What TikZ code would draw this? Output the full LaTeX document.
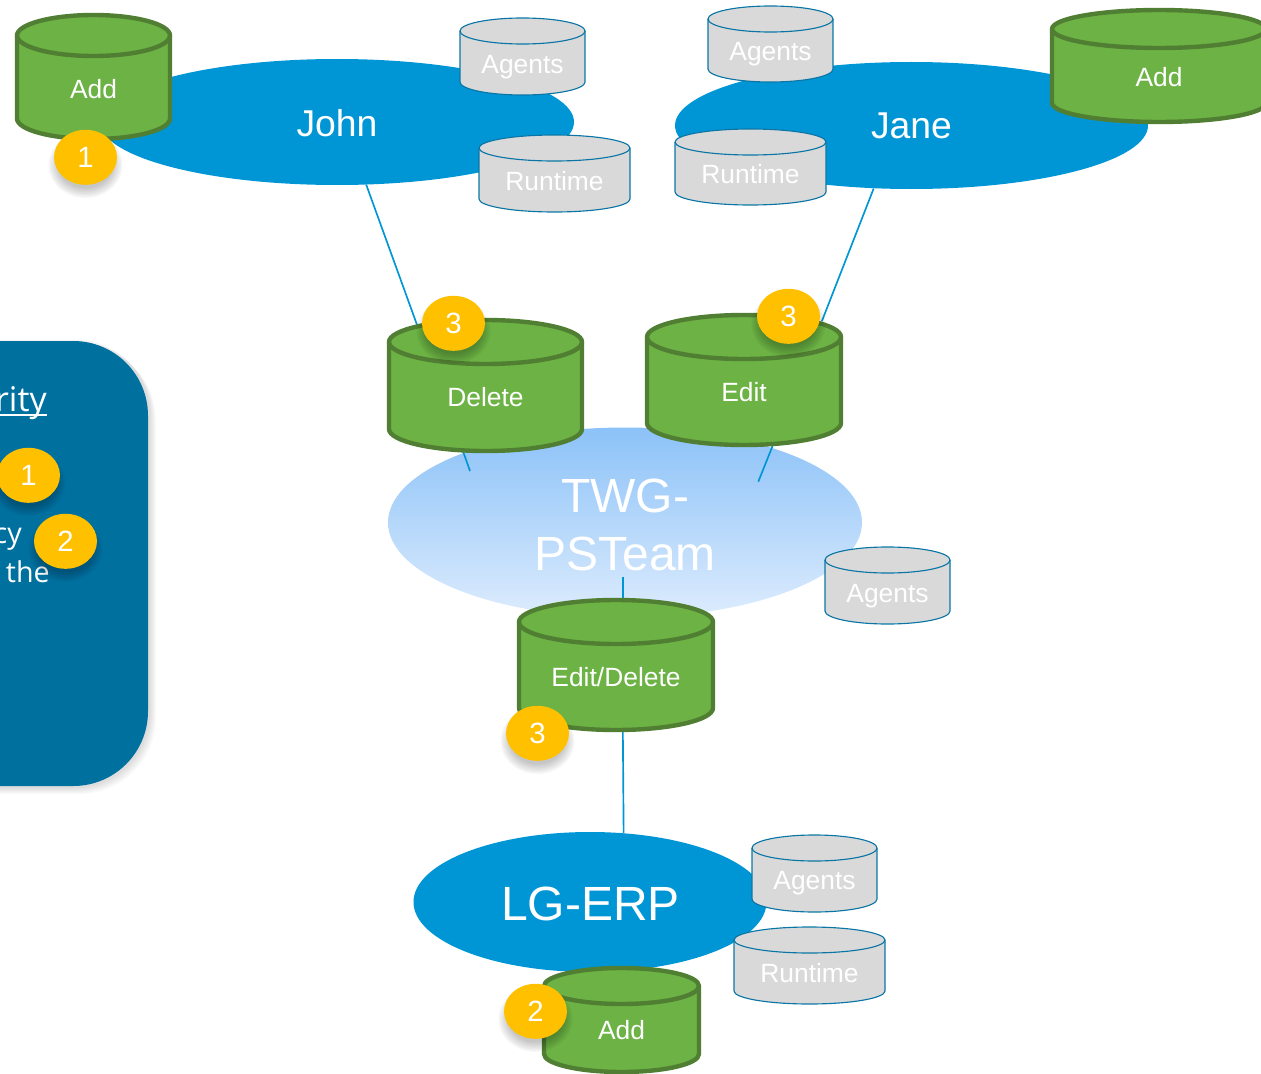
\documentclass[tikz,border=0pt]{standalone}
\usepackage{fontspec}
\setmainfont{Liberation Sans}
\newfontfamily\panelfont{Open Sans}
\usetikzlibrary{shapes.geometric}
\definecolor{lineblue}{HTML}{0096D6}
\definecolor{panelblue}{HTML}{00709F}
\definecolor{grnfill}{HTML}{6CB244}
\definecolor{grnline}{HTML}{507E32}
\definecolor{grayfill}{HTML}{D9D9D9}
\definecolor{graylne}{HTML}{0B76A6}
\definecolor{badgefill}{HTML}{FFC000}
\definecolor{twgtop}{HTML}{8CC2F8}
\definecolor{twgbot}{HTML}{DDECFD}
\pgfdeclarelayer{back}
\pgfdeclarelayer{lines}
\pgfsetlayers{back,lines,main}
\tikzset{
  x=0.75pt,y=-0.75pt,
  person/.style={ellipse,fill=lineblue,text=white,inner sep=0pt},
  wire/.style={draw=lineblue,line width=1.25pt},
  greencyl/.style={fill=grnfill,draw=grnline,line width=3.3pt,line join=round},
  graycyl/.style={fill=grayfill,draw=graylne,line width=0.85pt,line join=round},
  anchorbox/.style={rectangle,inner sep=0pt,outer sep=0pt},
  cyltext/.style={text=white,font=\fontsize{19.8}{23}\selectfont},
  badgenode/.style={ellipse,fill=badgefill,text=white,inner sep=0pt,minimum width=47.25pt,minimum height=41.25pt,font=\fontsize{22}{26}\selectfont},
  paneltext/.style={text=white,anchor=base east,inner sep=0pt,font=\panelfont\fontsize{21.5}{25}\selectfont},
}
% name, style, x1, x2, top, ry, bottom, text, text y
\newcommand{\mycyl}[9]{%
  \pgfmathsetmacro{\cx}{(#3+#4)/2}%
  \pgfmathsetmacro{\rx}{(#4-#3)/2}%
  \pgfmathsetmacro{\cy}{#5+#6}%
  \pgfmathsetmacro{\by}{#7-#6}%
  \pgfmathsetmacro{\kx}{0.5523*\rx}%
  \pgfmathsetmacro{\ky}{0.5523*#6}%
  \pgfmathsetmacro{\ly}{(#5+#7)/2}%
  \pgfmathsetmacro{\wpt}{(#4-#3)*0.75}%
  \pgfmathsetmacro{\hpt}{(#7-#5)*0.75}%
  \node[anchorbox,minimum width=\wpt pt,minimum height=\hpt pt] (#1) at (\cx,\ly) {};
  \path[#2] (#3,\cy) -- (#3,\by)
    .. controls (#3,\by+\ky) and (\cx-\kx,#7) .. (\cx,#7)
    .. controls (\cx+\kx,#7) and (#4,\by+\ky) .. (#4,\by)
    -- (#4,\cy)
    .. controls (#4,\cy-\ky) and (\cx+\kx,#5) .. (\cx,#5)
    .. controls (\cx-\kx,#5) and (#3,\cy-\ky) .. (#3,\cy) -- cycle;
  \path[#2,fill=none] (#3,\cy)
    .. controls (#3,\cy+\ky) and (\cx-\kx,\cy+#6) .. (\cx,\cy+#6)
    .. controls (\cx+\kx,\cy+#6) and (#4,\cy+\ky) .. (#4,\cy);
  \node[cyltext] (#1t) at (\cx,#9) {#8};
}
% name, x, y, digit
\newcommand{\mybadge}[4]{%
  \foreach \i in {0,...,7}{%
    \fill[black,opacity=0.03] (#2+0.5,#3+8) ellipse [x radius=37-\i*1.4, y radius=33-\i*1.4];
  }
  \node[badgenode] (#1) at (#2+0.5,#3+0.3) {#4};
}
\begin{document}
\begin{tikzpicture}
\useasboundingbox (0,0) rectangle (1261,1074);
\clip (0,0) rectangle (1261,1074);

% panel with soft shadow
\foreach \i in {0,...,6}{%
  \fill[black,opacity=0.02,rounded corners=57pt] (-100,341+4-\i) rectangle (148+8-\i,786+8-\i);
}
\node[anchorbox,fill=panelblue,rounded corners=56pt,minimum width=186pt,minimum height=333.75pt] (panel) at (24,563.5) {};
\node[paneltext,font=\panelfont\fontsize{25.5}{30}\selectfont] (ptitle) at (47,411) {rity\llap{\rule[-3.6pt]{60pt}{1.6pt}}};
\node[paneltext] (pcy) at (22,543.5) {cy};
\node[paneltext] (pthe) at (50,582) {the};

\begin{pgfonlayer}{back}
\node[person,minimum width=355.5pt,minimum height=94.5pt] (john) at (337,122) {};
\node[person,minimum width=354.75pt,minimum height=95.25pt] (jane) at (911.5,125.5) {};
\node[ellipse,inner sep=0pt,minimum width=355.5pt,minimum height=142.5pt,top color=twgtop,bottom color=twgbot,shading angle=0] (twg) at (625,522.5) {};
\node[person,minimum width=264.75pt,minimum height=105pt] (lg) at (590,902) {};
\end{pgfonlayer}
\node[text=white,font=\fontsize{28}{32}\selectfont] (johnt) at (337,123) {John};
\node[text=white,font=\fontsize{28}{32}\selectfont] (janet) at (911.5,126) {Jane};
\node[text=white,align=center,font=\fontsize{36}{43.5}\selectfont] (twgt) at (625,525) {TWG-\\PSTeam};
\node[text=white,font=\fontsize{36}{42}\selectfont] (lgt) at (590.5,904) {LG-ERP};

\mycyl{addone}{greencyl}{17}{170}{15}{20.5}{139}{Add}{89}
\mycyl{agone}{graycyl}{460}{585}{18}{13}{95}{Agents}{67}
\mycyl{rtone}{graycyl}{479}{630}{135}{13}{212}{Runtime}{181}
\mycyl{agtwo}{graycyl}{708}{833}{6}{13}{82}{Agents}{54}
\mycyl{rttwo}{graycyl}{675}{826}{129}{13}{205}{Runtime}{174}
\mycyl{addtwo}{greencyl}{1052}{1266}{10}{19}{122}{Add}{77}
\mycyl{del}{greencyl}{389}{582}{320}{22}{451}{Delete}{397}
\mycyl{edit}{greencyl}{647}{841}{315}{22}{445}{Edit}{392}
\mycyl{agthree}{graycyl}{825}{950}{547}{13}{624}{Agents}{596}
\mycyl{eddel}{greencyl}{519}{713}{600}{22}{730}{Edit/Delete}{677}
\mycyl{agfour}{graycyl}{752}{877}{835}{13}{912}{Agents}{883.5}
\mycyl{rtthree}{graycyl}{734}{885}{927}{13}{1004}{Runtime}{973}
\mycyl{addthree}{greencyl}{544}{699}{968}{18}{1072}{Add}{1030}

\coordinate (delstub) at (470,471);
\coordinate (editstub) at (758.3,481.7);
\coordinate (twgstub) at (623,577);
\begin{pgfonlayer}{lines}
\draw[wire,shorten >=-6pt] (john.-65.7) -- (del.137);
\draw[wire,shorten >=-5pt] (jane.-121.6) -- (edit.39.2);
\draw[wire] (del.-109.2) -- (delstub);
\draw[wire] (edit.-66.2) -- (editstub);
\draw[wire] (twgstub) -- (twgstub |- eddel.north);
\draw[wire] (eddel.-84.3) -- (lg.64.8);
\end{pgfonlayer}

\mybadge{bone}{85}{157}{1}
\mybadge{bthreea}{453}{323}{3}
\mybadge{bthreeb}{788}{316}{3}
\mybadge{bpone}{28}{475}{1}
\mybadge{bptwo}{65}{541}{2}
\mybadge{bthreec}{537}{733}{3}
\mybadge{btwo}{535}{1011}{2}
\end{tikzpicture}
\end{document}
